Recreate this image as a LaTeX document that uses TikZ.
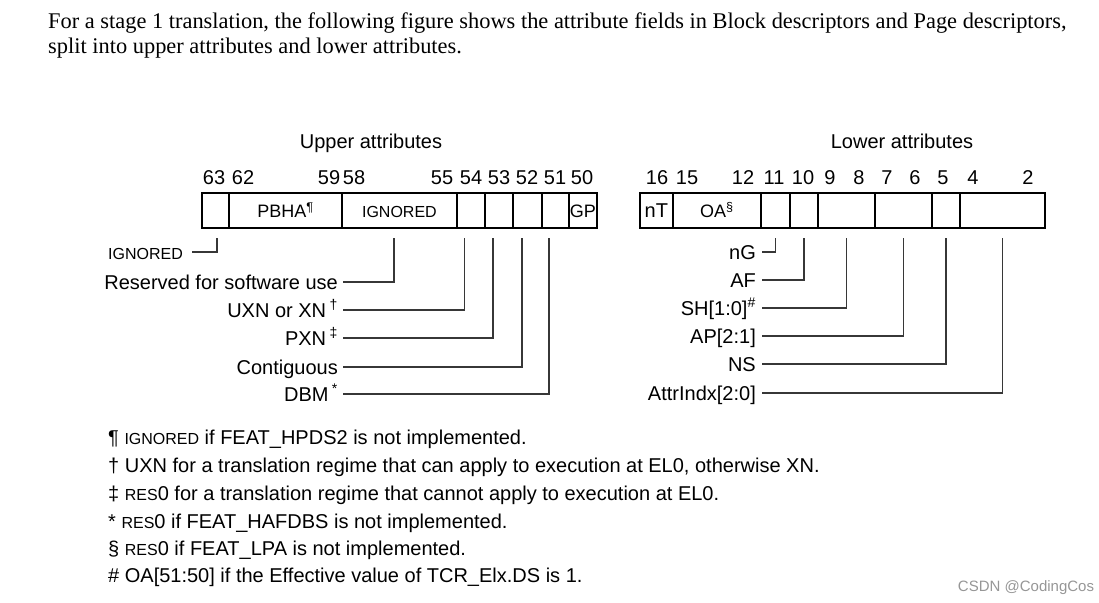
\documentclass[tikz,border=0pt]{standalone}
\usepackage{fontspec}
\setmainfont{Liberation Serif}
\setsansfont{Liberation Sans}
\usetikzlibrary{positioning}
\definecolor{leadergray}{RGB}{55,55,55}
\definecolor{markgray}{RGB}{150,150,150}
\newcommand{\capsmall}[1]{{\fontsize{16}{18}\selectfont #1}}

\begin{document}
\begin{tikzpicture}[x=1pt, y=-1pt,
    every node/.style={font=\sffamily\fontsize{20}{24}\selectfont,
                       inner sep=0pt, text height=14pt, text depth=0pt},
    field/.style={draw, line width=1.8pt, minimum height=35pt, anchor=north west,
                  font=\sffamily\fontsize{18}{20}\selectfont},
    fieldname/.style={anchor=east},
    leader/.style={draw=leadergray, line width=1.2pt},
    note/.style={anchor=west}
]
    \useasboundingbox (0,0) rectangle (1099,602);

    % intro text
    \node[anchor=base west, font=\rmfamily\fontsize{22.4}{25}\selectfont] (intro1) at (48,29)
        {For a stage 1 translation, the following figure shows the attribute fields in Block descriptors and Page descriptors,};
    \node[anchor=base west, font=\rmfamily\fontsize{22.4}{25}\selectfont] (intro2) at (48,54)
        {split into upper attributes and lower attributes.};

    \node (upper) at (371,141) {Upper attributes};
    \node (lower) at (902,141) {Lower attributes};

    % descriptor fields
    \foreach \name/\lft/\rgt/\txt in {
        u63/201/228/{}, u62/228/341/{PBHA\textsuperscript{¶}}, u58/341/456/{\capsmall{IGNORED}},
        u54/456/484/{}, u53/484/512/{}, u52/512/541/{}, u51/541/568/{}, u50/568/596/{GP},
        l16/639/672/{\fontsize{20}{22}\selectfont nT}, l15/672/760/{OA\textsuperscript{§}},
        l11/760/789/{}, l10/789/817/{}, l9/817/874/{}, l7/874/931/{}, l5/931/959/{}, l4/959/1044/{}}
        \node[field, minimum width={(\rgt-\lft)*1pt}] (\name) at (\lft,192) {\txt};

    % bit numbers
    \foreach \b/\x in {63/214, 62/243, 59/329, 58/354, 55/442, 54/471, 53/499, 52/527, 51/555, 50/582,
                       16/657, 15/687, 12/743, 11/774, 10/803, 9/830, 8/859, 7/887, 6/915, 5/943, 4/973, 2/1028}
        \node (b\b) at (\x,177) {\b};

    % upper attribute names
    \node[fieldname] (ign) at (183,252) {\capsmall{IGNORED}};
    \node[fieldname] (res) at (338,282) {Reserved for software use};
    \node[fieldname] (uxn) at (338,310) {UXN or XN\,\textsuperscript{†}};
    \node[fieldname] (pxn) at (338,338) {PXN\,\textsuperscript{‡}};
    \node[fieldname] (cont) at (338,367) {Contiguous};
    \node[fieldname] (dbm) at (338,394) {DBM\,\textsuperscript{*}};

    \draw[leader] ([xshift=9pt]ign.east) -| ([xshift=1.5pt,yshift=-9pt]u63.south);
    \draw[leader] ([xshift=5pt]res.east) -| ([xshift=-5.5pt,yshift=-9pt]u58.south);
    \draw[leader] ([xshift=5pt]uxn.east) -| ([xshift=-6.5pt,yshift=-9pt]u54.south);
    \draw[leader] ([xshift=5pt]pxn.east) -| ([xshift=-6pt,yshift=-9pt]u53.south);
    \draw[leader] ([xshift=5pt]cont.east) -| ([xshift=-5.5pt,yshift=-9pt]u52.south);
    \draw[leader] ([xshift=5pt]dbm.east) -| ([xshift=-6.5pt,yshift=-9pt]u51.south);

    % lower attribute names
    \node[fieldname] (ng) at (756,252) {nG};
    \node[fieldname] (af) at (756,280) {AF};
    \node[fieldname] (sh) at (756,308) {SH[1:0]\textsuperscript{\#}};
    \node[fieldname] (ap) at (756,336) {AP[2:1]};
    \node[fieldname] (ns) at (756,364) {NS};
    \node[fieldname] (attr) at (756,393) {AttrIndx[2:0]};

    \draw[leader] ([xshift=6pt]ng.east) -| ([yshift=-9pt]l11.south);
    \draw[leader] ([xshift=6pt]af.east) -| ([yshift=-9pt]l10.south);
    \draw[leader] ([xshift=6pt]sh.east) -| ([yshift=-9pt]l9.south);
    \draw[leader] ([xshift=6pt]ap.east) -| ([yshift=-9pt]l7.south);
    \draw[leader] ([xshift=6pt]ns.east) -| ([yshift=-9pt]l5.south);
    \draw[leader] ([xshift=6pt]attr.east) -| ([yshift=-9pt]l4.south);

    % footnotes
    \node[note] (n1) at (108,437) {¶ \capsmall{IGNORED} if FEAT\_HPDS2 is not implemented.};
    \node[note] (n2) at (108,465) {† UXN for a translation regime that can apply to execution at EL0, otherwise XN.};
    \node[note] (n3) at (108,493) {‡ \capsmall{RES}0 for a translation regime that cannot apply to execution at EL0.};
    \node[note] (n4) at (108,521) {* \capsmall{RES}0 if FEAT\_HAFDBS is not implemented.};
    \node[note] (n5) at (108,548) {§ \capsmall{RES}0 if FEAT\_LPA is not implemented.};
    \node[note] (n6) at (108,575) {\# OA[51:50] if the Effective value of TCR\_Elx.DS is 1.};

    \node[font=\sffamily\fontsize{15}{17}\selectfont, text=markgray] (mark) at (1026,584) {CSDN @CodingCos};
\end{tikzpicture}
\end{document}
